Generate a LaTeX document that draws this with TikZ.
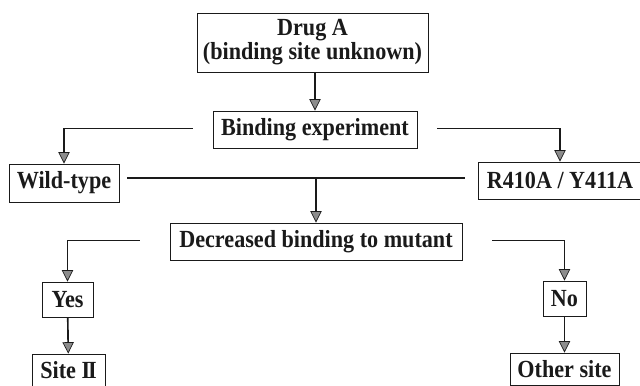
\documentclass[tikz,border=0pt]{standalone}
\usepackage{fontspec}
\setmainfont{Liberation Serif}[FakeStretch=0.9]
\usepackage{tikz}
\usetikzlibrary{arrows.meta,positioning,calc}
\definecolor{fcink}{HTML}{1A1A1A}
\definecolor{fctip}{HTML}{8C8C8C}

\begin{document}
\begin{tikzpicture}[x=0.03cm,y=-0.03cm,
  fcbox/.style={draw=fcink,line width=0.8pt,fill=white,inner sep=0pt,
    font=\fontsize{21}{20.5}\selectfont\bfseries,text=fcink,align=center},
  fcline/.style={draw=fcink,line width=1.4pt},
  fcarrow/.style={fcline,-{Triangle[length=3.4mm,width=3.4mm,fill=fctip,line width=0.6pt]}}]
\clip (0,0) rectangle (640,385);
\fill[white] (0,0) rectangle (640,385);
% boxes
\node[fcbox,minimum width={231*0.03cm},minimum height={59*0.03cm}] (drug) at (312.5,42.5)
  {Drug A\\(binding site unknown)};
\node[fcbox,minimum width={204*0.03cm},minimum height={37*0.03cm}] (bind) at (315,129.5) {Binding experiment};
\node[fcbox,minimum width={110*0.03cm},minimum height={38*0.03cm}] (wt) at (64,183) {Wild-type};
\node[fcbox,minimum width={164*0.03cm},minimum height={37*0.03cm}] (mut) at (560,180.5) {R410A / Y411A};
\node[fcbox,minimum width={292*0.03cm},minimum height={37*0.03cm}] (dec) at (316,241.5) {Decreased binding to mutant};
\node[fcbox,minimum width={51*0.03cm},minimum height={35*0.03cm}] (yes) at (67.5,299.5) {Yes};
\node[fcbox,minimum width={43*0.03cm},minimum height={35*0.03cm}] (no) at (564.5,298.5) {No};
\node[fcbox,minimum width={73*0.03cm},minimum height={32*0.03cm}] (site) at (68.5,370) {Site I\kern-0.09em I};
\node[fcbox,minimum width={109*0.03cm},minimum height={32*0.03cm}] (other) at (564.5,369) {Other site};
% connectors
\coordinate (split) at (316,178);
\draw[fcarrow] (drug.south -| bind.north) -- (bind.north);
\draw[fcarrow] ($(bind.west)+(-20,-1)$) -| (wt.north);
\draw[fcarrow] ($(bind.east)+(20,-1)$) -| (mut.north);
\draw[fcline] ($(wt.east |- split)+(8,0)$) -- ($(mut.west |- split)+(-13,0)$);
\draw[fcarrow] (split) -- (dec.north);
\draw[fcarrow] ($(dec.west)+(-30,-1)$) -| (yes.north);
\draw[fcarrow] ($(dec.east)+(30,-1)$) -| (no.north);
\draw[fcarrow] (yes) -- (site);
\draw[fcarrow] (no) -- (other);
\end{tikzpicture}
\end{document}
